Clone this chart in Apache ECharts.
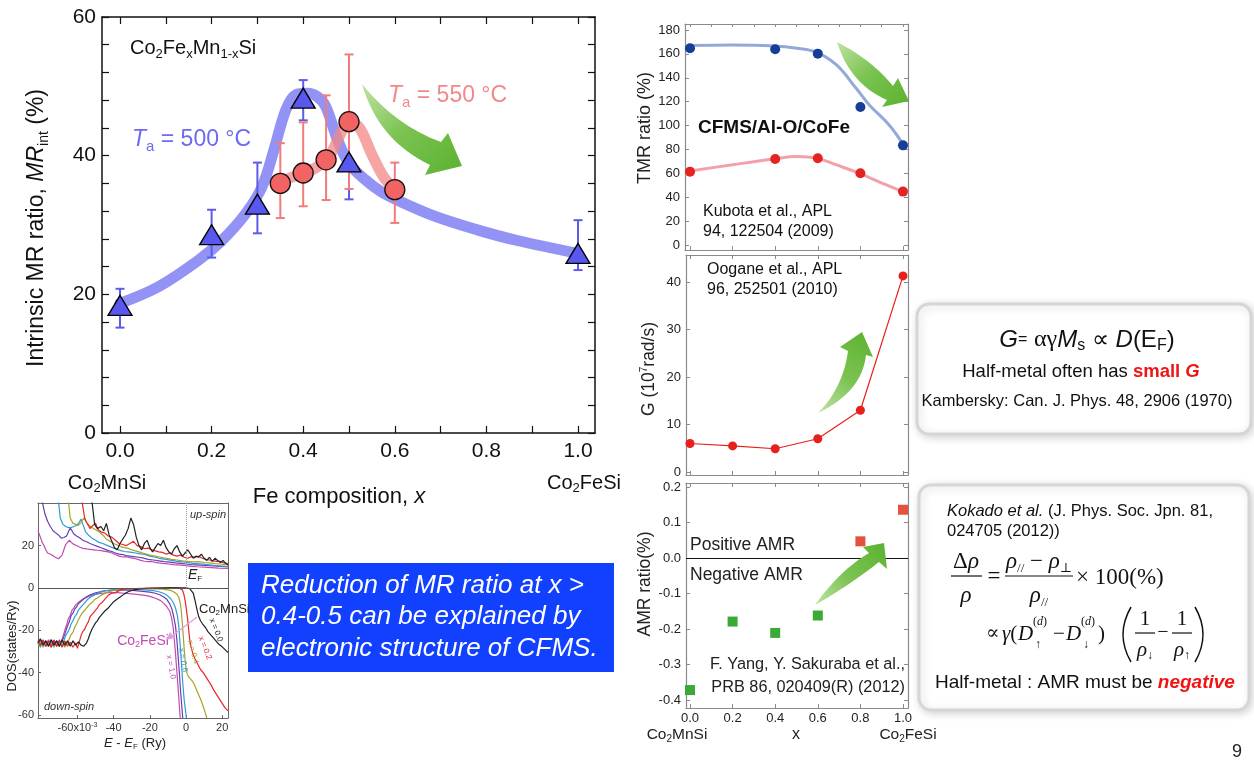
<!DOCTYPE html>
<html>
<head>
<meta charset="utf-8">
<script src="https://cdn.jsdelivr.net/npm/echarts@6/dist/echarts.min.js"></script>
<style>
  html, body { margin: 0; padding: 0; background: #fff; }
  #chart { width: 1254px; height: 764px; }
</style>
</head>
<body>
<div id="chart"></div>
<script>
// ---------- Intrinsic MR ratio of Co2FexMn1-xSi (main panel) ----------
const mrTicksX = [0, 0.1, 0.2, 0.3, 0.4, 0.5, 0.6, 0.7, 0.8, 0.9, 1.0];
const mrLabelsX = [0, 0.2, 0.4, 0.6, 0.8, 1.0];
const mrTicksY = [0, 4, 8, 12, 16, 20, 24, 28, 32, 36, 40, 44, 48, 52, 56, 60];
const mrLabelsY = [0, 20, 40, 60];

const mr500X = [0, 0.2, 0.3, 0.4, 0.5, 1.0];
const mr500 = [18.4, 28.6, 33.0, 48.3, 39.1, 25.9];
const mr500Lo = [15.2, 25.3, 28.8, 45.1, 33.7, 23.5];
const mr500Hi = [20.8, 32.2, 39.0, 50.9, 45.0, 30.7];

const mr550X = [0.35, 0.4, 0.45, 0.5, 0.6];
const mr550 = [36.0, 37.5, 39.4, 44.9, 35.1];
const mr550Lo = [31.0, 32.7, 33.6, 35.2, 30.3];
const mr550Hi = [41.8, 44.8, 48.7, 54.6, 39.0];

// guide-to-the-eye bands
const guide500X = [0, 0.084, 0.171, 0.223, 0.275, 0.31, 0.336, 0.362, 0.384, 0.41, 0.431, 0.449, 0.475, 0.5, 0.536, 0.57, 0.605, 0.69, 0.78, 0.865, 1.0];
const guide500Y = [18.7, 21.1, 24.9, 27.8, 31.7, 35.5, 40.8, 46.6, 48.8, 49.0, 48.5, 47.1, 42.3, 38.9, 36.5, 34.8, 33.6, 31.2, 29.3, 27.8, 25.9];
const guide550X = [0.35, 0.4, 0.431, 0.457, 0.479, 0.5, 0.523, 0.549, 0.575, 0.6];
const guide550Y = [36.3, 37.5, 38.4, 39.9, 42.8, 44.9, 44.0, 40.3, 37.0, 35.1];

// ---------- TMR ratio, CFMS/Al-O/CoFe ----------
const compX = [0, 0.2, 0.4, 0.6, 0.8, 1.0];
const tmrX = [0, 0.4, 0.6, 0.8, 1.0];
const tmrRT = [164.7, 163.8, 160.2, 115.5, 83.4];
const tmrLow = [61.4, 72.0, 72.6, 60.0, 44.7];
const tmrGuideHiX = [0, 0.193, 0.394, 0.502, 0.595, 0.688, 0.78, 0.842, 0.935, 1.0];
const tmrGuideHiY = [166.9, 167.4, 166.6, 164.7, 161.3, 150.7, 131.2, 117.2, 100.5, 84.3];
const tmrGuideLoX = [0, 0.193, 0.394, 0.502, 0.595, 0.688, 0.796, 0.904, 1.0];
const tmrGuideLoY = [62.0, 67.0, 72.0, 74.0, 72.6, 67.0, 60.0, 51.6, 44.7];
const tmrTicksY = [0, 20, 40, 60, 80, 100, 120, 140, 160, 180];

// ---------- Damping G ----------
const dampG = [6.0, 5.5, 4.9, 7.0, 13.0, 41.3];
const gTicksY = [0, 10, 20, 30, 40];

// ---------- AMR ratio ----------
const amrNegX = [0, 0.2, 0.4, 0.6];
const amrNeg = [-0.372, -0.179, -0.211, -0.162];
const amrPosX = [0.8, 1.0];
const amrPos = [0.047, 0.136];
const amrTicksY = [-0.4, -0.3, -0.2, -0.1, 0, 0.1, 0.2];

// ---------- DOS of Co2FexMn1-xSi (E - EF in 10^-3 Ry) ----------
const dosTicksX = [-60, -40, -20, 0, 20];
const dosTicksY = [-60, -40, -20, 0, 20];

const dosUp00 = [[-52,41],[-50.5,30],[-49,28],[-47,29],[-45.5,27],[-44,30.5],[-42.5,25],[-41,22],[-39.5,19],[-38,18],[-36.5,21],[-35,23],[-33.5,25],[-32,28],[-30.5,33],[-29,30],[-27.5,24],[-26,20],[-24.5,18],[-23,21],[-21.5,22.5],[-20,19],[-18.5,17],[-17,19],[-15.5,21],[-14,20],[-12.5,22.5],[-11,19],[-9.5,17],[-8,16],[-6.5,18.5],[-5,20],[-3.5,17],[-2,15],[-0.5,16.5],[1,18],[2.5,16],[4,14],[5.5,15],[7,14.5],[8.5,16],[10,14],[11.5,13],[13,14.5],[14.5,12.5],[16,14],[17.5,13],[19,12],[20.5,13],[22,11.5],[23.2,11]];
const dosUp02 = [[-57.5,41],[-56,33],[-55,31],[-53,28],[-51.5,29.5],[-50,30.5],[-48.5,27.5],[-47,26.5],[-45,26],[-43,24.5],[-41,24],[-39,22.5],[-37,21],[-35,20.5],[-33,20],[-31,21],[-29,22],[-27,20],[-25,19.5],[-23,18.5],[-21,18.8],[-19,18],[-17,17.5],[-15,17],[-13,16.8],[-11,16],[-9,16.5],[-7,15.5],[-5,15],[-3,15.5],[-1,14.5],[1,14],[3,14.8],[5,14.5],[7,15],[9,14],[11,13.5],[13,13.2],[15,12.8],[17,12.5],[19,12.5],[21,11.8],[23.2,11.5]];
const dosUp04 = [[-65,41],[-64,33],[-62.5,30.5],[-61,30],[-59.5,29.5],[-58,31],[-56.5,33],[-55,31],[-53.5,29.5],[-52,28.5],[-50,27.5],[-48,26.5],[-46,25],[-44,23],[-42,22],[-40,21],[-38,20.3],[-36,19.5],[-34,19],[-32,18.7],[-30,18],[-28,17.5],[-26,17],[-24,16.5],[-22,16],[-20,15.5],[-17,15],[-14,14.5],[-11,14],[-8,13.5],[-5,13.2],[-2,12.8],[1,12.5],[4,12.3],[7,12.4],[10,12],[13,11.8],[16,11.5],[19,11.3],[23.2,10.8]];
const dosUp06 = [[-70.5,41],[-69.5,33],[-68,30],[-66.5,29],[-65,28.5],[-63.5,28.5],[-62,29],[-60.5,29.5],[-59,31],[-58,32.5],[-57,30],[-55.5,26.5],[-54,25],[-52,23.5],[-50,22.5],[-48,21.5],[-46,21],[-44,20.2],[-42,19.5],[-40,18.8],[-38,18.2],[-36,17.6],[-34,17.2],[-32,17],[-30,16.8],[-28,16.5],[-26,16.2],[-23,15.8],[-20,15],[-17,14.5],[-14,13.8],[-11,13.5],[-8,13],[-5,12.5],[-2,12.3],[1,12],[4,11.6],[8,11.4],[12,11],[16,10.6],[20,10.3],[23.2,10]];
const dosUp08 = [[-79.5,41],[-78,35],[-76.5,31.5],[-75,29],[-73.5,27],[-72,26],[-70.5,25],[-69,23.5],[-67.5,23.8],[-66,24.5],[-65,26.5],[-64,28.2],[-63,27],[-62,25.5],[-60.5,24.5],[-59,23.8],[-57,22.5],[-55,21.8],[-53,21],[-51,20.3],[-49,19.6],[-47,19],[-45,18.3],[-43,17.6],[-41,17.2],[-39,16.5],[-37,16],[-35,15.7],[-33,15.3],[-31,15],[-29,14.8],[-27,14.6],[-24,14.2],[-21,13.5],[-18,13.2],[-15,12.8],[-12,12.4],[-9,12.2],[-6,11.8],[-3,11.6],[0,11.3],[3,11],[7,10.8],[11,10.6],[15,10.4],[19,10.2],[23.2,10]];
const dosUp10 = [[-81.8,27],[-80.5,24],[-79.5,21.5],[-78.5,20],[-77.5,18],[-76.5,16.5],[-75.5,16],[-74.5,15.8],[-73.5,15.5],[-72.5,14.6],[-71.5,14],[-70.5,13.8],[-69.5,14.5],[-68.5,15.5],[-67.5,18],[-66.5,20.5],[-65.5,21.5],[-64.5,22.5],[-63.5,21.8],[-62.5,20.8],[-61.5,20.3],[-60,19.8],[-58.5,19.2],[-57,18.7],[-55,18.4],[-53,18.2],[-51,18],[-49,17.8],[-47,17.6],[-45,17.3],[-43,17],[-41,16.5],[-39,15.8],[-37,15],[-35,14.6],[-33,14.8],[-31,14.3],[-29,14],[-27,13.6],[-25,13],[-23,12.6],[-21,12.4],[-19,12.5],[-17,12.1],[-15,11.8],[-13,11.6],[-11,11.5],[-9,11.2],[-7,11],[-5,10.9],[-3,10.8],[0,10.5],[3,10.2],[6,10],[10,9.8],[14,9.6],[18,9.4],[23.2,9.2]];

const dosDn00 = [[-81.8,-26],[-80.5,-24],[-79,-27],[-77.5,-25],[-76,-27.5],[-74.5,-24.5],[-73,-27],[-71.5,-25],[-70,-27.5],[-68.5,-24.5],[-67,-27],[-65.5,-25],[-64,-27.5],[-62.5,-25],[-61,-27],[-59.5,-25.5],[-58,-27],[-56.5,-27.5],[-55,-26],[-54,-24],[-53,-21.5],[-52,-19.5],[-51,-18],[-50,-16.5],[-49,-15.5],[-48,-14],[-47,-13.2],[-46,-12],[-45,-11],[-44,-10.5],[-43,-9.5],[-42,-8.5],[-41,-7.5],[-40,-6.5],[-39,-6],[-38,-5.2],[-37,-4.5],[-36,-4],[-35,-3.3],[-34,-2.8],[-33,-2.2],[-32,-1.8],[-31,-1.5],[-30,-1.2],[-28,-0.8],[-26,-0.5],[-24,-0.3],[-20,-0.2],[-15,-0.1],[-10,0],[0,0],[2,-0.3],[3,-1],[4,-2.5],[5,-6],[6,-10],[7,-13.5],[8,-15.5],[9,-16.8],[10,-17.5],[11,-19],[12,-20.5],[13,-21],[14,-22.5],[15,-23.5],[16,-24],[17,-25.5],[18,-26.5],[19,-27],[20,-27.8],[21,-28.5],[22,-29.5],[23.2,-30.5]];
const dosDn02 = [[-81.8,-25],[-80.5,-27],[-79,-24.5],[-77.5,-27.5],[-76,-25],[-74.5,-28],[-73,-24.5],[-71.5,-27.5],[-70,-25],[-68.5,-28],[-67,-25],[-65.5,-27.5],[-64,-25.5],[-62.5,-28],[-61,-26],[-60,-28.5],[-59,-25.5],[-58,-22.5],[-57,-20.5],[-56,-19.5],[-55,-17.5],[-54,-16],[-53,-13.5],[-52,-14],[-51,-11.5],[-50,-11],[-49,-9.5],[-48,-8],[-47,-8.5],[-46,-6.5],[-45,-5.5],[-44,-5],[-43,-3.5],[-42,-4],[-41,-2.5],[-40,-2],[-39,-2.2],[-38,-1.3],[-36,-0.8],[-34,-0.6],[-32,-0.5],[-28,-0.3],[-24,-0.2],[-20,-0.1],[-4,0],[-3,-0.3],[-2,-1],[-1.2,-3],[-0.5,-6],[0.2,-10],[0.8,-14],[1.4,-19],[2,-24],[2.8,-28],[3.8,-31],[5,-33.5],[6.5,-36],[8,-38.5],[9.5,-40],[11,-42],[12.5,-44],[14,-46],[15.5,-48.5],[17,-50.5],[18.5,-52.5],[20,-54.5],[21.5,-56.5],[23.2,-58]];
const dosDn04 = [[-81.8,-27],[-80.5,-25],[-79,-28],[-77.5,-25.5],[-76,-27.5],[-74.5,-25],[-73,-28],[-71.5,-25.5],[-70,-27.5],[-68.5,-25],[-67,-28],[-65.5,-26],[-64.5,-24],[-63.5,-22],[-62.5,-21],[-61.5,-18.5],[-60.5,-17],[-59.5,-15],[-58.5,-13.5],[-57.5,-12],[-56.5,-11],[-55.5,-10],[-54.5,-9.5],[-53.5,-8],[-52.5,-7.5],[-51.5,-6.5],[-50.5,-5.5],[-49.5,-5],[-48.5,-4.5],[-47,-3.5],[-45.5,-2.8],[-44,-2.2],[-42,-1.6],[-40,-1.2],[-37,-0.8],[-33,-0.5],[-28,-0.3],[-22,-0.3],[-17,-0.4],[-13,-0.6],[-10,-0.9],[-8,-1.3],[-6.5,-2],[-5,-3],[-4,-4.5],[-3.2,-7],[-2.6,-11],[-2,-17],[-1.5,-23],[-1,-29],[-0.5,-34],[0,-38],[0.6,-40.5],[1.5,-42],[2.5,-43],[3.5,-44],[4.5,-45.5],[5.5,-47.5],[6.5,-49.5],[7.5,-51.5],[8.5,-53.5],[9.5,-56],[10.5,-58.5],[11.5,-61.4]];
const dosDn06 = [[-81.8,-25.5],[-80.5,-28],[-79,-25],[-77.5,-27.5],[-76,-25.5],[-74.5,-28],[-73,-25],[-71.5,-27.5],[-70,-25.5],[-68.5,-27.5],[-67.5,-25],[-66.5,-22.5],[-65.5,-21],[-64.5,-19.5],[-63.5,-17],[-62.5,-15.5],[-61.5,-13.5],[-60.5,-12.5],[-59.5,-10.5],[-58.5,-10],[-57.5,-8.5],[-56.5,-7.5],[-55.5,-6.8],[-54.5,-5.5],[-53.5,-5],[-52.5,-4.2],[-51,-3.5],[-49.5,-2.8],[-48,-2.2],[-46,-1.6],[-44,-1.2],[-41,-0.9],[-37,-0.6],[-33,-0.5],[-29,-0.6],[-25,-0.8],[-21,-1],[-18,-1.3],[-15,-1.8],[-12.5,-2.5],[-10.5,-3.5],[-8.5,-5],[-7,-7],[-5.8,-9.5],[-4.8,-13],[-4,-18],[-3.4,-25],[-2.8,-32],[-2.2,-40],[-1.6,-47],[-1,-53],[-0.4,-57],[0.2,-61.4]];
const dosDn08 = [[-81.8,-26.5],[-80.5,-24.5],[-79,-27],[-77.5,-25],[-76,-27.5],[-74.5,-24.5],[-73,-27],[-71.5,-25],[-70,-27.5],[-68.5,-25],[-67.5,-23],[-66.5,-20.5],[-65.5,-18],[-64.5,-16],[-63.5,-13],[-62.5,-12],[-61.5,-10],[-60.5,-9],[-59.5,-7.5],[-58.5,-7],[-57.5,-6],[-56.5,-5.5],[-55.5,-4.5],[-54.5,-4],[-53,-3.2],[-51.5,-2.8],[-50,-2.3],[-48,-1.9],[-46,-1.5],[-43,-1.2],[-40,-1],[-36,-0.9],[-32,-1],[-28,-1.3],[-24,-1.6],[-20,-2],[-17,-2.5],[-14.5,-3.2],[-12.5,-4.2],[-10.5,-5.5],[-9,-7.5],[-7.8,-10],[-6.8,-13.5],[-5.8,-18],[-5,-25],[-4.3,-33],[-3.6,-41],[-3,-49],[-2.4,-55],[-1.8,-61.4]];
const dosDn10 = [[-81.8,-24.5],[-80.5,-27],[-79,-25],[-77.5,-27.5],[-76,-24.5],[-74.5,-27],[-73,-25],[-71.5,-27.5],[-70,-24.5],[-69,-26],[-68,-23],[-67,-20],[-66,-17.5],[-65,-14.5],[-64,-13],[-63,-10.5],[-62,-9.5],[-61,-8],[-60,-7.5],[-59,-6.5],[-58,-6],[-57,-5.2],[-56,-4.8],[-54.5,-4.2],[-53,-3.8],[-51.5,-3.3],[-50,-3],[-48,-2.7],[-45,-2.4],[-42,-2.2],[-38,-2.2],[-34,-2.5],[-30,-2.8],[-26,-3.2],[-22,-3.6],[-19,-4.2],[-16.5,-5],[-14,-6],[-12,-7.5],[-10.5,-9],[-9,-11],[-8,-14],[-7.2,-18],[-6.5,-24],[-5.8,-31],[-5.1,-39],[-4.4,-47],[-3.8,-54],[-3.2,-61.4]];

// ---------- styling helpers ----------
const SANS = '"Liberation Sans", Arial, Helvetica, sans-serif';
const SERIF = '"Liberation Serif", "DejaVu Serif", "Times New Roman", serif';

const pairs = (xs, ys) => xs.map((x, i) => [x, ys[i]]);
const triples = (xs, lo, hi) => xs.map((x, i) => [x, lo[i], hi[i]]);

function rs(size, extra, family) {
  return Object.assign({ fontFamily: family || SANS, fontSize: size }, extra || {});
}
function sub(size, family) { return rs(size, { lineHeight: 10, verticalAlign: 'bottom' }, family); }
function sup(size, family) { return rs(size, { lineHeight: 10, verticalAlign: 'top' }, family); }

function T(x, y, text, st, extra) {
  return Object.assign({
    type: 'text', x: x, y: y, silent: true, z: 50,
    style: Object.assign({ text: text, fill: '#111', fontFamily: SANS, fontSize: 14, align: 'left', verticalAlign: 'middle' }, st || {})
  }, extra || {});
}
function L(x1, y1, x2, y2, color, w) {
  return { type: 'line', silent: true, z: 50, shape: { x1: x1, y1: y1, x2: x2, y2: y2 }, style: { stroke: color || '#111', lineWidth: w || 1.2 } };
}
function paren(x1, y1, cx, x2, y2) {
  return { type: 'bezierCurve', silent: true, z: 50, shape: { x1: x1, y1: y1, x2: x2, y2: y2, cpx1: cx, cpy1: (y1 + y2) / 2 }, style: { stroke: '#111', lineWidth: 1.5, fill: 'none' } };
}

function errBar(params, api) {
  const x = api.value(0);
  const lo = api.coord([x, api.value(1)]);
  const hi = api.coord([x, api.value(2)]);
  const w = 4.5;
  const style = { stroke: api.visual('color'), lineWidth: 2 };
  return {
    type: 'group', children: [
      { type: 'line', shape: { x1: lo[0], y1: lo[1], x2: hi[0], y2: hi[1] }, style: style },
      { type: 'line', shape: { x1: lo[0] - w, y1: lo[1], x2: lo[0] + w, y2: lo[1] }, style: style },
      { type: 'line', shape: { x1: hi[0] - w, y1: hi[1], x2: hi[0] + w, y2: hi[1] }, style: style }
    ]
  };
}

function axis(o) {
  const base = {
    type: 'value', splitLine: { show: false },
    axisLine: { show: true, onZero: false, lineStyle: { color: '#111', width: 1.5 } },
    axisTick: { show: false }, axisLabel: { show: false }
  };
  return Object.assign(base, o);
}
function ticks(values, color, len, w) {
  return { show: true, inside: true, length: len, customValues: values, lineStyle: { color: color, width: w || 1 } };
}
function labels(values, size, color, margin, fmt, extra) {
  return Object.assign({ show: true, customValues: values, fontSize: size, color: color, margin: margin, fontFamily: SANS, formatter: fmt }, extra || {});
}

const FRAME = '#8a8a8a';
const frameLine = { show: true, onZero: false, lineStyle: { color: FRAME, width: 1.2 } };
const dosLine = { show: true, onZero: false, lineStyle: { color: '#666', width: 1 } };
const fmt1 = v => Number(v).toFixed(1);
const fmt0 = v => String(v);

const grid = [
  { left: 102, top: 17, width: 493, height: 416 },   // MR ratio
  { left: 685, top: 24, width: 223, height: 226 },   // TMR
  { left: 686, top: 255, width: 222, height: 220 },  // G
  { left: 686, top: 483, width: 222, height: 225 },  // AMR
  { left: 38, top: 503, width: 190, height: 215 }    // DOS
];

const xAxis = [
  axis({ gridIndex: 0, position: 'bottom', min: -0.0393, max: 1.0371, axisTick: ticks(mrTicksX, '#111', 7, 1.2), axisLabel: labels(mrLabelsX, 21, '#111', 8, fmt1) }),
  axis({ gridIndex: 0, position: 'top', min: -0.0393, max: 1.0371, axisTick: ticks(mrTicksX, '#111', 7, 1.2) }),
  axis({ gridIndex: 1, position: 'bottom', min: -0.0235, max: 1.0235, axisLine: frameLine, axisTick: ticks(compX, FRAME, 4) }),
  axis({ gridIndex: 1, position: 'top', min: -0.0235, max: 1.0235, axisLine: frameLine, axisTick: ticks([0, 0.1, 0.2, 0.3, 0.4, 0.5, 0.6, 0.7, 0.8, 0.9, 1.0], FRAME, 3) }),
  axis({ gridIndex: 2, position: 'bottom', min: -0.0188, max: 1.0235, axisLine: frameLine, axisTick: ticks(compX, FRAME, 4) }),
  axis({ gridIndex: 2, position: 'top', min: -0.0188, max: 1.0235, axisLine: frameLine, axisTick: ticks(compX, FRAME, 4) }),
  axis({ gridIndex: 3, position: 'bottom', min: -0.0188, max: 1.0235, axisLine: frameLine, axisTick: ticks(compX, FRAME, 4), axisLabel: labels(compX, 13, '#222', 4, fmt1) }),
  axis({ gridIndex: 3, position: 'top', min: -0.0188, max: 1.0235, axisLine: frameLine, axisTick: ticks(compX, FRAME, 4) }),
  axis({ gridIndex: 4, position: 'bottom', min: -81.8, max: 23.2, axisLine: dosLine, axisTick: ticks(dosTicksX, '#666', 3),
    axisLabel: labels(dosTicksX, 11, '#333', 4, v => (Number(v) === -60 ? '-60x10{p|-3}' : String(v)), { rich: { p: { fontSize: 7, fontFamily: SANS, color: '#333', verticalAlign: 'top', lineHeight: 8 } } }) }),
  axis({ gridIndex: 4, position: 'top', min: -81.8, max: 23.2, axisLine: dosLine })
];

const yAxis = [
  axis({ gridIndex: 0, position: 'left', min: 0, max: 60, axisTick: ticks(mrTicksY, '#111', 7, 1.2), axisLabel: labels(mrLabelsY, 21, '#111', 6, fmt0) }),
  axis({ gridIndex: 0, position: 'right', min: 0, max: 60, axisTick: ticks(mrTicksY, '#111', 7, 1.2) }),
  axis({ gridIndex: 1, position: 'left', min: -4.19, max: 185, axisLine: frameLine, axisTick: ticks(tmrTicksY, FRAME, 4), axisLabel: labels(tmrTicksY, 13, '#222', 5, fmt0) }),
  axis({ gridIndex: 1, position: 'right', min: -4.19, max: 185, axisLine: frameLine, axisTick: ticks(tmrTicksY, FRAME, 4) }),
  axis({ gridIndex: 2, position: 'left', min: -0.63, max: 45.7, axisLine: frameLine, axisTick: ticks(gTicksY, FRAME, 4), axisLabel: labels(gTicksY, 13, '#222', 5, fmt0) }),
  axis({ gridIndex: 2, position: 'right', min: -0.63, max: 45.7, axisLine: frameLine, axisTick: ticks(gTicksY, FRAME, 4) }),
  axis({ gridIndex: 3, position: 'left', min: -0.4225, max: 0.2113, axisLine: frameLine, axisTick: ticks(amrTicksY, FRAME, 4), axisLabel: labels(amrTicksY, 13, '#222', 5, fmt1) }),
  axis({ gridIndex: 3, position: 'right', min: -0.4225, max: 0.2113, axisLine: frameLine, axisTick: ticks(amrTicksY, FRAME, 4) }),
  axis({ gridIndex: 4, position: 'left', min: -61.4, max: 40.1, axisLine: dosLine, axisTick: ticks(dosTicksY, '#666', 3), axisLabel: labels(dosTicksY, 11, '#333', 4, fmt0) }),
  axis({ gridIndex: 4, position: 'right', min: -61.4, max: 40.1, axisLine: dosLine })
];

function dosSeries(data, color, extra) {
  return Object.assign({
    type: 'line', xAxisIndex: 8, yAxisIndex: 8, data: data, showSymbol: false, symbol: 'none',
    lineStyle: { color: color, width: 1.2 }, itemStyle: { color: color }, silent: true, z: 2, clip: true
  }, extra || {});
}

const series = [
  // MR ratio panel
  { type: 'line', xAxisIndex: 0, yAxisIndex: 0, data: pairs(guide500X, guide500Y), smooth: 0.35, showSymbol: false, symbol: 'none',
    lineStyle: { width: 11, color: 'rgba(120,120,243,0.8)', cap: 'round' }, silent: true, z: 2 },
  { type: 'line', xAxisIndex: 0, yAxisIndex: 0, data: pairs(guide550X, guide550Y), smooth: 0.35, showSymbol: false, symbol: 'none',
    lineStyle: { width: 11, color: 'rgba(244,134,134,0.75)', cap: 'round' }, silent: true, z: 3 },
  { type: 'custom', xAxisIndex: 0, yAxisIndex: 0, renderItem: errBar, data: triples(mr500X, mr500Lo, mr500Hi), itemStyle: { color: '#5c5ce9' }, encode: { x: 0, y: [1, 2] }, z: 4 },
  { type: 'custom', xAxisIndex: 0, yAxisIndex: 0, renderItem: errBar, data: triples(mr550X, mr550Lo, mr550Hi), itemStyle: { color: '#f07c7c' }, encode: { x: 0, y: [1, 2] }, z: 4 },
  { type: 'scatter', xAxisIndex: 0, yAxisIndex: 0, data: pairs(mr500X, mr500), symbol: 'triangle', symbolSize: [24, 20],
    itemStyle: { color: '#5858ee', borderColor: '#000', borderWidth: 1.3, opacity: 1 }, z: 5 },
  { type: 'scatter', xAxisIndex: 0, yAxisIndex: 0, data: pairs(mr550X, mr550), symbol: 'circle', symbolSize: 20,
    itemStyle: { color: '#f26464', borderColor: '#111', borderWidth: 1.3, opacity: 1 }, z: 6 },

  // TMR panel
  { type: 'line', xAxisIndex: 2, yAxisIndex: 2, data: pairs(tmrGuideHiX, tmrGuideHiY), smooth: 0.4, showSymbol: false, symbol: 'none',
    lineStyle: { width: 3, color: '#93aad9' }, silent: true, z: 2 },
  { type: 'line', xAxisIndex: 2, yAxisIndex: 2, data: pairs(tmrGuideLoX, tmrGuideLoY), smooth: 0.4, showSymbol: false, symbol: 'none',
    lineStyle: { width: 3, color: '#f2a1a9' }, silent: true, z: 2 },
  { type: 'scatter', xAxisIndex: 2, yAxisIndex: 2, data: pairs(tmrX, tmrRT), symbolSize: 10, itemStyle: { color: '#163e98', opacity: 1 }, z: 3 },
  { type: 'scatter', xAxisIndex: 2, yAxisIndex: 2, data: pairs(tmrX, tmrLow), symbolSize: 10, itemStyle: { color: '#e32420', opacity: 1 }, z: 3 },

  // G panel
  { type: 'line', xAxisIndex: 4, yAxisIndex: 4, data: pairs(compX, dampG), symbol: 'circle', symbolSize: 9, showSymbol: true,
    lineStyle: { width: 1.2, color: '#e8201c' }, itemStyle: { color: '#e8201c' }, z: 3 },

  // AMR panel
  { type: 'scatter', xAxisIndex: 6, yAxisIndex: 6, data: pairs(amrNegX, amrNeg), symbol: 'rect', symbolSize: 10, itemStyle: { color: '#3aa935', opacity: 1 }, z: 3,
    markLine: { silent: true, symbol: 'none', label: { show: false }, animation: false,
      data: [{ yAxis: 0, lineStyle: { color: '#111', width: 1.2, type: 'solid' } }] } },
  { type: 'scatter', xAxisIndex: 6, yAxisIndex: 6, data: pairs(amrPosX, amrPos), symbol: 'rect', symbolSize: 10, itemStyle: { color: '#e8503e', opacity: 1 }, z: 3 },

  // DOS panel
  dosSeries(dosUp10, '#c24bb2', {
    markLine: { silent: true, symbol: 'none', label: { show: false }, animation: false,
      data: [
        { yAxis: 0, lineStyle: { color: '#555', width: 1, type: 'solid' } },
        [{ coord: [0, 0], lineStyle: { color: '#999', width: 1, type: 'dotted' } }, { coord: [0, 40.1] }]
      ] }
  }),
  dosSeries(dosUp08, '#6b3db3'),
  dosSeries(dosUp06, '#2f9bd6'),
  dosSeries(dosUp04, '#a7a22a'),
  dosSeries(dosUp02, '#e8262c'),
  dosSeries(dosUp00, '#222'),
  dosSeries(dosDn10, '#c24bb2'),
  dosSeries(dosDn08, '#6b3db3'),
  dosSeries(dosDn06, '#2f9bd6'),
  dosSeries(dosDn04, '#a7a22a'),
  dosSeries(dosDn02, '#e8262c'),
  dosSeries(dosDn00, '#222')
];

// ---------- annotations ----------
// sample a quadratic Bezier segment into polygon vertices
function quad(p0, c, p1, n) {
  const out = [];
  for (let i = 0; i <= n; i++) {
    const t = i / n, u = 1 - t;
    out.push([u * u * p0[0] + 2 * u * t * c[0] + t * t * p1[0], u * u * p0[1] + 2 * u * t * c[1] + t * t * p1[1]]);
  }
  return out;
}
// curved block arrow: tail, outer edge (ctrl, end), head (barb, tip, barb), inner edge (start, ctrl)
function arrow(tail, c1, s1, b1, tip, b2, s2, c2, fill) {
  const pts = quad(tail, c1, s1, 16).concat([b1, tip, b2]).concat(quad(s2, c2, tail, 16));
  return { type: 'polygon', silent: true, z: 40, shape: { points: pts }, style: { fill: fill } };
}
const stops = [{ offset: 0, color: '#bfe3a2' }, { offset: 0.45, color: '#7cc352' }, { offset: 1, color: '#5ab22f' }];
const arrowFillDown = { type: 'linear', x: 0, y: 0, x2: 1, y2: 1, colorStops: stops };
const arrowFillUp = { type: 'linear', x: 0, y: 1, x2: 1, y2: 0, colorStops: stops };

const boxStyle = { fill: '#fff', stroke: '#d6d6d6', lineWidth: 3, shadowBlur: 8, shadowColor: 'rgba(0,0,0,0.16)', shadowOffsetX: 2, shadowOffsetY: 2 };

const S = SERIF;
const graphic = [
  // green trend arrows
  arrow([362, 84], [395, 125], [441, 142], [448, 133], [462, 166], [425, 175], [430, 165], [378, 140], arrowFillDown),
  arrow([837, 42], [872, 60], [893, 86], [898, 78], [909, 101], [882, 107], [887, 100], [850, 84], arrowFillDown),
  arrow([818, 413], [862, 392], [866, 355], [873, 357], [862, 332], [840, 347], [848, 351], [843, 388], arrowFillUp),
  arrow([815, 605], [840, 570], [869, 553], [863, 547], [884, 543], [887, 569], [879, 562], [850, 585], arrowFillUp),

  // MR panel texts
  T(130, 48, 'Co{s|2}Fe{s|x}Mn{s|1-x}Si', { fontSize: 20, lineHeight: 26, rich: { s: sub(13) } }),
  T(132, 140, '{i|T}{s|a} = 500 °C', { fontSize: 23, lineHeight: 28, fill: '#6b6bf3', rich: { i: rs(23, { fontStyle: 'italic' }), s: sub(15) } }),
  T(388, 96, '{i|T}{s|a} = 550 °C', { fontSize: 23, lineHeight: 28, fill: '#f28888', rich: { i: rs(23, { fontStyle: 'italic' }), s: sub(15) } }),
  T(37, 228, 'Intrinsic MR ratio, {i|MR}{s|int} (%)', { fontSize: 23, lineHeight: 28, align: 'center', rich: { i: rs(23, { fontStyle: 'italic' }), s: sub(14) } }, { rotation: Math.PI / 2 }),
  T(107, 483, 'Co{s|2}MnSi', { fontSize: 20, lineHeight: 24, align: 'center', rich: { s: sub(13) } }),
  T(584, 483, 'Co{s|2}FeSi', { fontSize: 20, lineHeight: 24, align: 'center', rich: { s: sub(13) } }),
  T(339, 497, 'Fe composition, {i|x}', { fontSize: 22, align: 'center', rich: { i: rs(22, { fontStyle: 'italic' }) } }),

  // TMR / G / AMR panel texts
  T(645, 128, 'TMR ratio (%)', { fontSize: 18, align: 'center', fill: '#222' }, { rotation: Math.PI / 2 }),
  T(698, 128, 'CFMS/Al-O/CoFe', { fontSize: 19, fontWeight: 'bold' }),
  T(703, 212, 'Kubota et al., APL', { fontSize: 16 }),
  T(703, 232, '94, 122504 (2009)', { fontSize: 16 }),
  T(649, 369, 'G (10{p|7}rad/s)', { fontSize: 17.5, lineHeight: 20, align: 'center', fill: '#222', rich: { p: sup(10) } }, { rotation: Math.PI / 2 }),
  T(707, 270, 'Oogane et al., APL', { fontSize: 16 }),
  T(707, 290, '96, 252501 (2010)', { fontSize: 16 }),
  T(645, 584, 'AMR ratio(%)', { fontSize: 17.5, align: 'center', fill: '#222' }, { rotation: Math.PI / 2 }),
  T(690, 545, 'Positive AMR', { fontSize: 17.5, fill: '#222' }),
  T(690, 575, 'Negative AMR', { fontSize: 17.5, fill: '#222' }),
  T(905, 665, 'F. Yang, Y. Sakuraba et al.,', { fontSize: 16.3, align: 'right', fill: '#222' }),
  T(905, 688, 'PRB 86, 020409(R) (2012)', { fontSize: 16.3, align: 'right', fill: '#222' }),
  T(677, 735, 'Co{s|2}MnSi', { fontSize: 15.5, lineHeight: 18, align: 'center', fill: '#222', rich: { s: sub(10) } }),
  T(796, 735, 'x', { fontSize: 16, align: 'center', fill: '#222' }),
  T(908, 735, 'Co{s|2}FeSi', { fontSize: 15.5, lineHeight: 18, align: 'center', fill: '#222', rich: { s: sub(10) } }),

  // Gilbert damping box
  { type: 'rect', silent: true, z: 30, shape: { x: 917, y: 304, width: 334, height: 130, r: 12 }, style: boxStyle },
  T(1087, 340, '{i|G}{sm|=} {g|αγ}{i|M}{s|s} ∝ {i|D}(E{s|F})', { fontSize: 24, lineHeight: 28, align: 'center',
    rich: { i: rs(24, { fontStyle: 'italic' }), sm: rs(16), g: rs(24, {}, S), s: sub(16) } }),
  T(1081, 372, 'Half-metal often has {r|small }{ri|G}', { fontSize: 18.5, align: 'center',
    rich: { r: rs(18.5, { fontWeight: 'bold', fill: '#f01414' }), ri: rs(18.5, { fontWeight: 'bold', fontStyle: 'italic', fill: '#f01414' }) } }),
  T(1077, 401, 'Kambersky: Can. J. Phys. 48, 2906 (1970)', { fontSize: 16.5, align: 'center' }),

  // AMR theory box
  { type: 'rect', silent: true, z: 30, shape: { x: 919, y: 485, width: 330, height: 225, r: 12 }, style: boxStyle },
  T(947, 511, '{i|Kokado et al.} (J. Phys. Soc. Jpn. 81,', { fontSize: 16.5, rich: { i: rs(16.5, { fontStyle: 'italic' }) } }),
  T(947, 531, '024705 (2012))', { fontSize: 16.5 }),
  T(966, 562, 'Δ{i|ρ}', { fontFamily: S, fontSize: 23, align: 'center', rich: { i: rs(23, { fontStyle: 'italic' }, S) } }),
  L(951, 576, 982, 576),
  T(966, 596, '{i|ρ}', { fontFamily: S, fontSize: 23, align: 'center', rich: { i: rs(23, { fontStyle: 'italic' }, S) } }),
  T(994, 577, '=', { fontFamily: S, fontSize: 23, align: 'center' }),
  T(1039, 562, '{i|ρ}{s|//} − {i|ρ}{s|⊥}', { fontFamily: S, fontSize: 23, lineHeight: 26, align: 'center',
    rich: { i: rs(23, { fontStyle: 'italic' }, S), s: sub(13, S) } }),
  L(1005, 576, 1073, 576),
  T(1039, 596, '{i|ρ}{s|//}', { fontFamily: S, fontSize: 23, lineHeight: 26, align: 'center',
    rich: { i: rs(23, { fontStyle: 'italic' }, S), s: sub(13, S) } }),
  T(1076, 578, '× 100(%)', { fontFamily: S, fontSize: 23 }),
  T(986, 634, '∝', { fontFamily: S, fontSize: 20 }),
  T(1002, 634, '{i|γ}(', { fontFamily: S, fontSize: 21, rich: { i: rs(21, { fontStyle: 'italic' }, S) } }),
  T(1018, 634, '{i|D}', { fontFamily: S, fontSize: 21, rich: { i: rs(21, { fontStyle: 'italic' }, S) } }),
  T(1033, 622, '({i|d})', { fontFamily: S, fontSize: 12, rich: { i: rs(12, { fontStyle: 'italic' }, S) } }),
  T(1035, 645, '↑', { fontFamily: S, fontSize: 12 }),
  T(1053, 634, '−', { fontFamily: S, fontSize: 21 }),
  T(1066, 634, '{i|D}', { fontFamily: S, fontSize: 21, rich: { i: rs(21, { fontStyle: 'italic' }, S) } }),
  T(1081, 622, '({i|d})', { fontFamily: S, fontSize: 12, rich: { i: rs(12, { fontStyle: 'italic' }, S) } }),
  T(1083, 645, '↓', { fontFamily: S, fontSize: 12 }),
  T(1098, 634, ')', { fontFamily: S, fontSize: 21 }),
  paren(1131, 607, 1115, 1131, 662),
  T(1145, 619, '1', { fontFamily: S, fontSize: 21, align: 'center' }),
  L(1135, 633, 1155, 633),
  T(1145, 650, '{i|ρ}{s|↓}', { fontFamily: S, fontSize: 21, lineHeight: 24, align: 'center', rich: { i: rs(21, { fontStyle: 'italic' }, S), s: sub(12, S) } }),
  T(1163, 633, '−', { fontFamily: S, fontSize: 20, align: 'center' }),
  T(1182, 619, '1', { fontFamily: S, fontSize: 21, align: 'center' }),
  L(1172, 633, 1192, 633),
  T(1182, 650, '{i|ρ}{s|↑}', { fontFamily: S, fontSize: 21, lineHeight: 24, align: 'center', rich: { i: rs(21, { fontStyle: 'italic' }, S), s: sub(12, S) } }),
  paren(1195, 607, 1211, 1195, 662),
  T(1085, 683, 'Half-metal : AMR must be {r|negative}', { fontSize: 19, align: 'center',
    rich: { r: rs(19, { fontWeight: 'bold', fontStyle: 'italic', fill: '#f01414' }) } }),

  // electronic-structure note
  { type: 'rect', silent: true, z: 30, shape: { x: 248, y: 563, width: 366, height: 109 }, style: { fill: '#1240ff' } },
  T(261, 617, 'Reduction of MR ratio at x >\n0.4-0.5 can be explained by\nelectronic structure of CFMS.', { fontSize: 26, fontStyle: 'italic', fill: '#fff', lineHeight: 31.5 }),

  // DOS panel texts
  T(12, 646, 'DOS(states/Ry)', { fontSize: 13, align: 'center', fill: '#222' }, { rotation: Math.PI / 2 }),
  T(135, 743, '{i|E} - {i|E}{s|F} (Ry)', { fontSize: 13, lineHeight: 16, align: 'center', fill: '#222',
    rich: { i: rs(13, { fontStyle: 'italic' }), s: sub(8) } }),
  T(226, 515, 'up-spin', { fontSize: 11, fontStyle: 'italic', align: 'right', fill: '#333' }),
  T(44, 707, 'down-spin', { fontSize: 11, fontStyle: 'italic', fill: '#333' }),
  T(188, 575, '{i|E}{s|F}', { fontSize: 14, lineHeight: 16, fill: '#222', rich: { i: rs(14, { fontStyle: 'italic' }), s: sub(8) } }),
  T(199, 609, 'Co{s|2}MnSi', { fontSize: 13, lineHeight: 16, fill: '#222', rich: { s: sub(8) } }),
  T(143, 641, 'Co{s|2}FeSi', { fontSize: 14, lineHeight: 16, align: 'center', fill: '#c24bb2', rich: { s: sub(9) } }),
  L(197, 617, 172, 636, '#e2a0da', 1.3),
  { type: 'polygon', silent: true, z: 50, shape: { points: [[166, 640], [175, 638], [170, 632]] }, style: { fill: '#e2a0da' } },
  T(216, 630, 'x = 0.0', { fontSize: 8, align: 'center', fill: '#222' }, { rotation: -1.2 }),
  T(205, 648, 'x = 0.2', { fontSize: 8, align: 'center', fill: '#e8262c' }, { rotation: -1.2 }),
  T(193, 652, 'x = 0.4', { fontSize: 8, align: 'center', fill: '#a7a22a' }, { rotation: -1.3 }),
  T(183, 660, 'x = 0.6', { fontSize: 8, align: 'center', fill: '#2f9bd6' }, { rotation: -1.4 }),
  T(171, 667, 'x = 1.0', { fontSize: 8, align: 'center', fill: '#c24bb2' }, { rotation: -1.4 }),

  // page number
  T(1237, 752, '9', { fontSize: 18, align: 'center', fill: '#222' })
];

const chart = echarts.init(document.getElementById('chart'), null, { renderer: 'canvas' });
chart.setOption({
  backgroundColor: '#fff',
  animation: false,
  textStyle: { fontFamily: SANS },
  grid: grid,
  xAxis: xAxis,
  yAxis: yAxis,
  series: series,
  graphic: graphic
});
</script>
</body>
</html>
